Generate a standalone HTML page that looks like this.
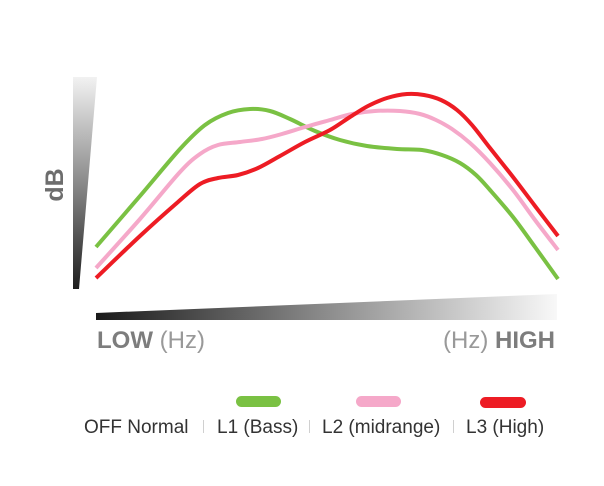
<!DOCTYPE html>
<html><head><meta charset="utf-8">
<style>
html,body{margin:0;padding:0;background:#fff;}
svg{display:block;}
text{font-family:"Liberation Sans",Arial,sans-serif;}
</style></head>
<body>
<svg id="chart" width="604" height="486" viewBox="0 0 604 486" xmlns="http://www.w3.org/2000/svg">
<defs>
<linearGradient id="gv" x1="0" y1="1" x2="0" y2="0">
<stop offset="0" stop-color="#1e1e1e"/>
<stop offset="0.5" stop-color="#8a8a8a"/>
<stop offset="1" stop-color="#f2f2f2"/>
</linearGradient>
<linearGradient id="gh" x1="0" y1="0" x2="1" y2="0">
<stop offset="0" stop-color="#1a1a1a"/>
<stop offset="0.5" stop-color="#8c8c8c"/>
<stop offset="1" stop-color="#f8f8f8"/>
</linearGradient>
</defs>
<rect width="604" height="486" fill="#fff"/>
<polygon points="73,77 97,77 79,289 73,289" fill="url(#gv)"/>
<polygon points="96,313 557,294 557,320 96,320" fill="url(#gh)"/>
<text transform="translate(63,185) rotate(-90)" text-anchor="middle" font-size="25" font-weight="bold" fill="#6d6d6d">dB</text>
<text x="97" y="348" font-size="24" fill="#999"><tspan font-weight="bold" fill="#7d7d7d">LOW</tspan> (Hz)</text>
<text x="555" y="348" font-size="24" fill="#999" text-anchor="end">(Hz) <tspan font-weight="bold" fill="#7d7d7d">HIGH</tspan></text>

<g id="curves" fill="none" stroke-width="4" stroke-linejoin="round" stroke-linecap="butt">
<polyline stroke="#7ac143" points="96,247 140,196 180,149 205,125 228,113 250,109 270,111 290,119 315,131 340,140 367,146 397,149 422,150 442,155 460,163 476,175 490,190 513,217 535,247 558,279"/>
<polyline stroke="#f5a8c9" points="96,268 140,219 180,172 200,154 218,145 240,142 262,139 282,134 305,127 330,120 352,114 375,111 400,111 420,114 436,120 452,129 470,143 490,163 513,190 535,220 558,250"/>
<polyline stroke="#ed1c24" points="96,278 140,236 178,202 200,184 218,178 238,175 258,168 280,156 305,142 330,130 350,117 368,106 387,98 407,94 424,95 441,100 457,110 472,125 490,148 513,177 535,206 558,236"/>
</g>

<rect x="236" y="396" width="45" height="11" rx="5.5" fill="#7ac143"/>
<rect x="356" y="396" width="45" height="11" rx="5.5" fill="#f5a8c9"/>
<rect x="480" y="397" width="46" height="11" rx="5.5" fill="#ed1c24"/>

<g font-size="19" fill="#333">
<text x="84" y="433">OFF Normal</text>
<text x="217" y="433">L1 (Bass)</text>
<text x="322" y="433">L2 (midrange)</text>
<text x="466" y="433">L3 (High)</text>
</g>
<g stroke="#d0d0d0" stroke-width="1">
<line x1="203.5" y1="420" x2="203.5" y2="433"/>
<line x1="309.5" y1="420" x2="309.5" y2="433"/>
<line x1="453.5" y1="420" x2="453.5" y2="433"/>
</g>
</svg>
<script>
(function(){
  var NS="http://www.w3.org/2000/svg";
  var g=document.getElementById("curves");
  var pls=g.querySelectorAll("polyline");
  for(var k=0;k<pls.length;k++){
    var pl=pls[k];
    var raw=pl.getAttribute("points").trim().split(/\s+/);
    var p=raw.map(function(s){var a=s.split(",");return [parseFloat(a[0]),parseFloat(a[1])];});
    var d="M"+p[0][0]+","+p[0][1];
    for(var i=0;i<p.length-1;i++){
      var p0=p[i-1]||p[i],p1=p[i],p2=p[i+1],p3=p[i+2]||p[i+1];
      var c1x=p1[0]+(p2[0]-p0[0])/6,c1y=p1[1]+(p2[1]-p0[1])/6;
      var c2x=p2[0]-(p3[0]-p1[0])/6,c2y=p2[1]-(p3[1]-p1[1])/6;
      d+=" C"+c1x.toFixed(2)+","+c1y.toFixed(2)+" "+c2x.toFixed(2)+","+c2y.toFixed(2)+" "+p2[0]+","+p2[1];
    }
    var path=document.createElementNS(NS,"path");
    path.setAttribute("d",d);
    path.setAttribute("stroke",pl.getAttribute("stroke"));
    g.replaceChild(path,pl);
  }
})();
</script>
</body></html>
